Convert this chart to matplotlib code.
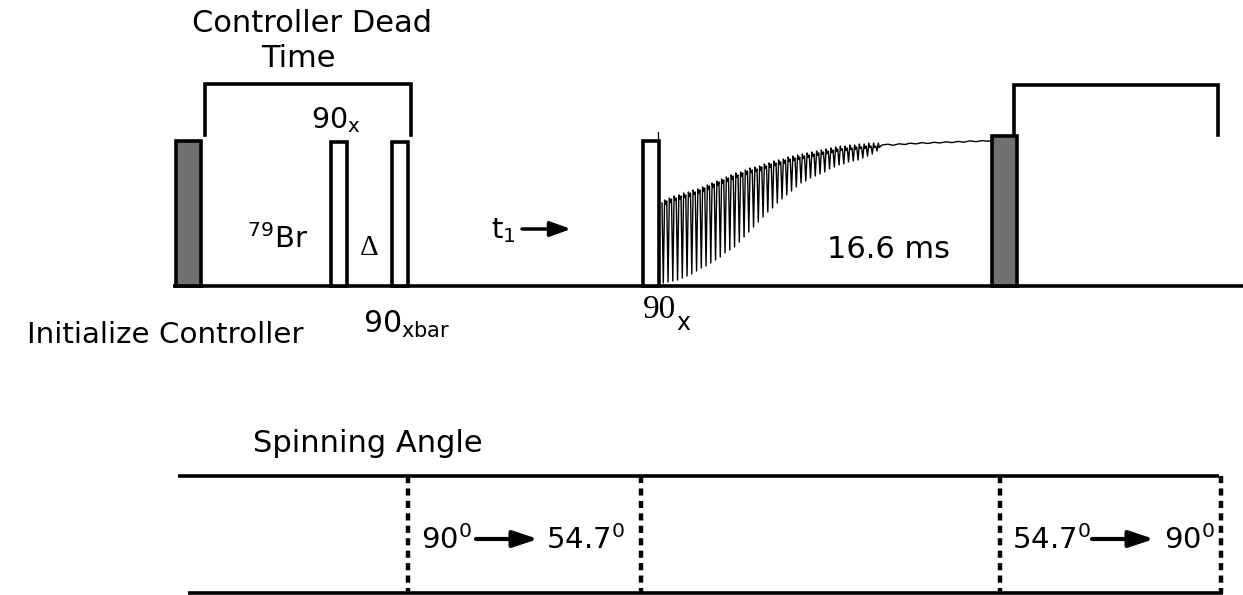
import numpy as np
import matplotlib.pyplot as plt
from matplotlib.patches import Rectangle

plt.rcParams['mathtext.fontset'] = 'dejavusans'
plt.rcParams['font.family'] = ['DejaVu Sans']

SANS = 'DejaVu Sans'
SERIF = 'Liberation Serif'

# ---------------- data (diagram units = pixels of the original) ----------------
baseline_y = 286
# pulses
pulse_x = [176, 331, 392, 643, 992]
pulse_w = [25, 16, 16, 16, 25]
pulse_top = [141, 142, 142, 141, 136]
pulse_kind = ['gray', 'white', 'white', 'white', 'gray']

# brackets
bracket_l = [205, 1014]
bracket_r = [411, 1218]
bracket_top = [84, 85]
bracket_lbot = [135, 136]
bracket_rbot = [135, 135]

# FID: dip depth and upper envelope at each rotor spike
fid_start = 662
fid_period = 4.75
fid_dip = [283, 282, 281, 280, 278, 276, 274, 271, 268, 266, 263, 260, 257, 253,
           250, 247, 242, 237, 232, 227, 222, 217, 212, 208, 203, 199, 195, 191,
           187, 183, 181, 178, 176, 174, 172, 169, 167, 165, 164, 162, 161, 160,
           158, 156, 154, 151]
fid_upper = [203, 201, 199, 198, 196, 195, 193, 192, 190, 188, 186, 184, 182, 180,
             178, 176, 175, 173, 171, 170, 169, 167, 166, 164, 163, 162, 160, 159,
             158, 157, 156, 155, 154, 153, 152, 151, 150, 149, 149, 148, 148, 147,
             147, 146, 146, 146]
fid_tail_x = [882, 888, 893, 899, 905, 910, 916, 922, 928, 934, 940, 946, 952,
              958, 964, 970, 976, 982, 988, 992]
fid_tail_y = [145, 144.2, 145.3, 143.8, 144.5, 143.2, 143.9, 142.6, 143.5, 142.3,
              143.0, 141.8, 142.6, 141.4, 142.2, 140.8, 141.7, 140.6, 141.3, 140.5]

# spinning angle timeline
spin_top_y = 476
spin_bot_y = 593
spin_dotted_x = [408, 641, 1000, 1221]

# ---------------- figure ----------------
fig = plt.figure(figsize=(12.43, 5.95), dpi=100)
ax = fig.add_axes([0, 0, 1, 1])
ax.set_xlim(0, 1243)
ax.set_ylim(595, 0)
ax.axis('off')

LW = 2.6

# baseline
ax.plot([173, 1243], [baseline_y, baseline_y], color='black', lw=LW, solid_capstyle='butt', zorder=2)

# FID trace
xs, ys = [], []
for i, (d, u) in enumerate(zip(fid_dip, fid_upper)):
    x0 = fid_start + i * fid_period
    xs += [x0, x0 + 1.3, x0 + 2.6, x0 + 3.6]
    ys += [u, d, u - 3, u + 1.5]
xs += fid_tail_x
ys += fid_tail_y
ax.plot(xs, ys, color='black', lw=1.0, zorder=3)
ax.plot([658.5, 658.5], [141, 132], color='black', lw=0.9, zorder=3)

# pulses
for x, w, t, k in zip(pulse_x, pulse_w, pulse_top, pulse_kind):
    fc = '#707070' if k == 'gray' else 'white'
    ax.add_patch(Rectangle((x, t), w, baseline_y - t, facecolor=fc,
                           edgecolor='black', lw=LW, zorder=4))

# brackets
for xl, xr, tp, lb, rb in zip(bracket_l, bracket_r, bracket_top, bracket_lbot, bracket_rbot):
    ax.plot([xl, xl, xr, xr], [lb, tp, tp, rb], color='black', lw=LW,
            solid_joinstyle='miter', zorder=2)

FS = 22
# texts (top channel)
ax.text(312, 32, 'Controller Dead', fontsize=FS, ha='center', va='baseline')
ax.text(298, 67, 'Time', fontsize=FS, ha='center', va='baseline')
ax.text(311, 128, r'$\mathregular{90_x}$', fontsize=20.5, ha='left', va='baseline')
ax.text(247, 248, r'$\mathregular{^{79}Br}$', fontsize=21, ha='left', va='baseline')
ax.text(369, 255, 'Δ', fontsize=21, family=SERIF, ha='center', va='baseline')
ax.text(491, 238, r'$\mathregular{t_1}$', fontsize=21, ha='left', va='baseline')
ax.annotate('', xy=(571, 229), xytext=(522, 229),
            arrowprops=dict(arrowstyle='-|>,head_length=1.25,head_width=0.45',
                            color='black', lw=2.5, shrinkA=0, shrinkB=0))
ax.text(827, 258, '16.6 ms', fontsize=FS, ha='left', va='baseline')
ax.text(27, 343, 'Initialize Controller', fontsize=21.2, ha='left', va='baseline')
ax.text(363, 333, r'$\mathregular{90_{xbar}}$', fontsize=21.5, ha='left', va='baseline')
ax.text(643, 318, '90', fontsize=24, family=SERIF, ha='left', va='baseline')
ax.text(676, 330, 'x', fontsize=17, ha='left', va='baseline')

# spinning angle section
ax.text(253, 452, 'Spinning Angle', fontsize=FS, ha='left', va='baseline')
ax.plot([178, 1219], [spin_top_y, spin_top_y], color='black', lw=LW, solid_capstyle='butt')
ax.plot([188, 1223], [spin_bot_y, spin_bot_y], color='black', lw=LW, solid_capstyle='butt')
for xd in spin_dotted_x:
    ax.plot([xd, xd], [spin_top_y, spin_bot_y], color='black', lw=3.2,
            linestyle=(0, (1.6, 1.2)), solid_capstyle='butt')

arrow_kw = dict(arrowstyle='-|>,head_length=1.5,head_width=0.5',
                color='black', lw=3.0, shrinkA=0, shrinkB=0)
ax.text(421, 549, r'$\mathregular{90^0}$', fontsize=21, ha='left', va='baseline')
ax.annotate('', xy=(538, 539), xytext=(476, 539), arrowprops=arrow_kw)
ax.text(546, 549, r'$\mathregular{54.7^0}$', fontsize=21, ha='left', va='baseline')

ax.text(1012, 549, r'$\mathregular{54.7^0}$', fontsize=21, ha='left', va='baseline')
ax.annotate('', xy=(1154, 539), xytext=(1092, 539), arrowprops=arrow_kw)
ax.text(1164, 549, r'$\mathregular{90^0}$', fontsize=21, ha='left', va='baseline')

fig.savefig('out.png', dpi=100)
